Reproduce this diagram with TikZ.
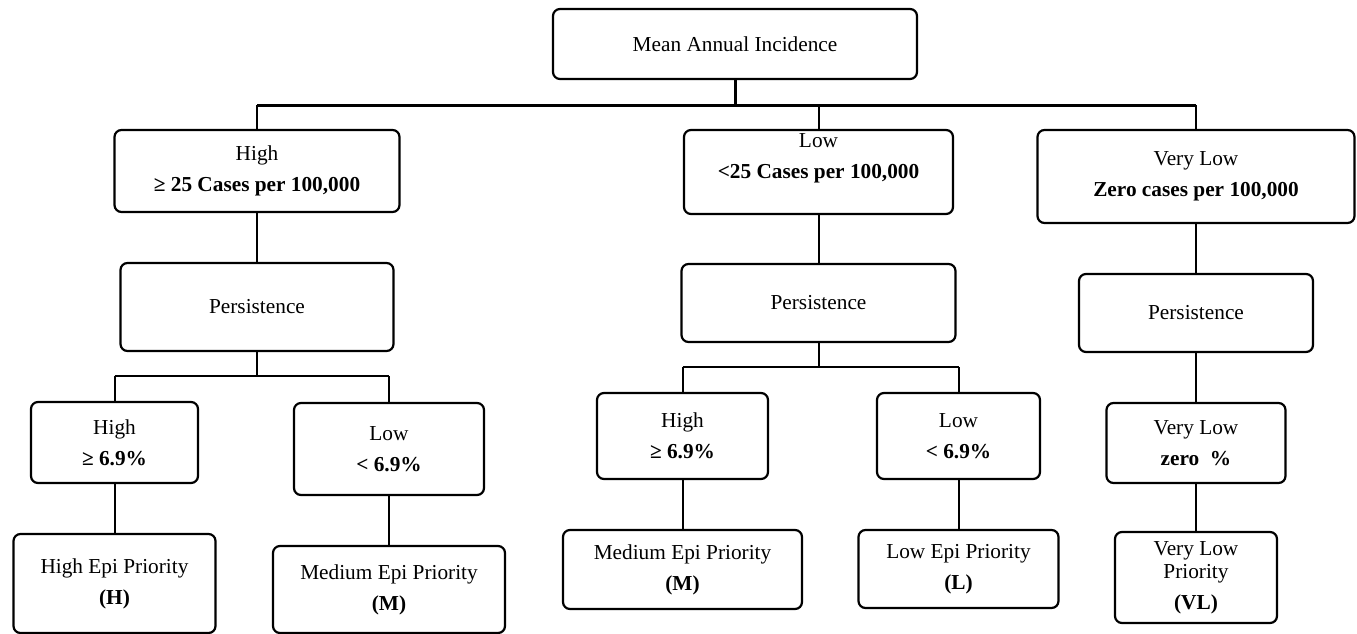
\documentclass[tikz,border=0pt]{standalone}
\usepackage{fontspec}
\setmainfont{Liberation Serif}
\begin{document}
\begin{tikzpicture}[x=1pt,y=-1pt,
  box/.style={draw, rounded corners=7pt, line width=2.2pt, inner sep=0pt, align=center,
    font=\fontsize{21.3}{31}\selectfont},
  conn/.style={line width=2pt},
  thick conn/.style={line width=3pt}]
\useasboundingbox (0,0) rectangle (1357,634);
% level 1
\node[box, minimum width=364, minimum height=70] (top) at (735,44) {Mean Annual Incidence};
% level 2
\node[box, minimum width=285, minimum height=82] (hi2) at (257,171) {High\\\textbf{≥ 25 Cases per 100,000}};
\node[box, minimum width=269, minimum height=84] (lo2) at (818.5,172) {Low\\\textbf{<25 Cases per 100,000}\\\mbox{}};
\node[box, minimum width=317, minimum height=93] (vl2) at (1196,176.5) {Very Low\\\textbf{Zero cases per 100,000}};
% level 3
\node[box, minimum width=273, minimum height=88] (perL) at (257,307) {Persistence};
\node[box, minimum width=274, minimum height=78] (perM) at (818.5,303) {Persistence};
\node[box, minimum width=234, minimum height=78] (perR) at (1196,313) {Persistence};
% level 4
\node[box, minimum width=167, minimum height=81] (a4) at (114.5,442.5) {High\\\textbf{≥ 6.9\%}};
\node[box, minimum width=190, minimum height=92] (b4) at (389,449) {Low\\\textbf{< 6.9\%}};
\node[box, minimum width=171, minimum height=86] (c4) at (682.5,436) {High\\\textbf{≥ 6.9\%}};
\node[box, minimum width=163, minimum height=86] (d4) at (958.5,436) {Low\\\textbf{< 6.9\%}};
\node[box, minimum width=179, minimum height=80] (e4) at (1196,443) {Very Low\\\textbf{zero \ \%}};
% level 5
\node[box, minimum width=202, minimum height=99] (a5) at (114.5,583.5) {High Epi Priority\\\textbf{(H)}};
\node[box, minimum width=232, minimum height=87] (b5) at (389,589.5) {Medium Epi Priority\\\textbf{(M)}};
\node[box, minimum width=239, minimum height=79] (c5) at (682.5,569.5) {Medium Epi Priority\\\textbf{(M)}};
\node[box, minimum width=200, minimum height=78] (d5) at (958.5,569) {Low Epi Priority\\\textbf{(L)}};
\node[box, minimum width=162, minimum height=91] (e5) at (1196,577.5) {Very Low\\[-8pt]Priority\\\textbf{(VL)}};
% junctions
\coordinate (j1) at (735,105);
\coordinate (jL) at (257,376);
\coordinate (jM) at (818.5,367);
% connectors level 1 -> 2
\draw[thick conn] (top.south) -- (j1);
\draw[thick conn] (hi2.north |- j1) -- (vl2.north |- j1);
\draw[conn] (hi2.north |- j1) -- (hi2.north);
\draw[conn] (lo2.north |- j1) -- (lo2.north);
\draw[conn] (vl2.north |- j1) -- (vl2.north);
% level 2 -> 3
\draw[conn] (hi2.south) -- (perL.north);
\draw[conn] (lo2.south) -- (perM.north);
\draw[conn] (vl2.south) -- (perR.north);
% level 3 -> 4
\draw[conn] (perL.south) -- (jL);
\draw[conn] (a4.north |- jL) -- (b4.north |- jL);
\draw[conn] (a4.north |- jL) -- (a4.north);
\draw[conn] (b4.north |- jL) -- (b4.north);
\draw[conn] (perM.south) -- (jM);
\draw[conn] (c4.north |- jM) -- (d4.north |- jM);
\draw[conn] (c4.north |- jM) -- (c4.north);
\draw[conn] (d4.north |- jM) -- (d4.north);
\draw[conn] (perR.south) -- (e4.north);
% level 4 -> 5
\draw[conn] (a4.south) -- (a5.north);
\draw[conn] (b4.south) -- (b5.north);
\draw[conn] (c4.south) -- (c5.north);
\draw[conn] (d4.south) -- (d5.north);
\draw[conn] (e4.south) -- (e5.north);
\end{tikzpicture}
\end{document}
